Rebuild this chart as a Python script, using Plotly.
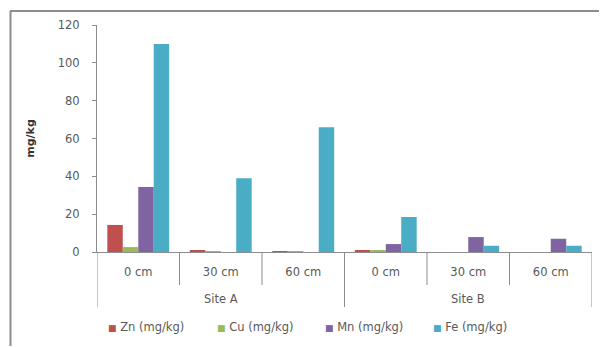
import plotly.graph_objects as go

sites = ["Site A", "Site B"]
depths = ["0 cm", "30 cm", "60 cm", "0 cm", "30 cm", "60 cm"]

zn = [14.3, 1.0, 0.3, 1.0, 0.0, 0.0]
cu = [2.6, 0.3, 0.2, 0.8, 0.0, 0.0]
mn = [34.4, 0.0, 0.0, 4.2, 7.9, 7.0]
fe = [110.0, 39.0, 66.0, 18.5, 3.3, 3.3]

series = [
    ("Zn (mg/kg)", zn, "#C0504D"),
    ("Cu (mg/kg)", cu, "#9BBB59"),
    ("Mn (mg/kg)", mn, "#8064A2"),
    ("Fe (mg/kg)", fe, "#4BACC6"),
]

FONT = "DejaVu Sans"
FS = 11.5
TEXT = "#595959"
AXIS = "#8C8C8C"
FRAME = "#8C8C8C"

W, H = 600, 347
L, R, T, B = 97, 8, 25, 95
pw, ph = W - L - R, H - T - B

pos = list(range(len(depths)))

fig = go.Figure()
for name, vals, color in series:
    fig.add_trace(go.Bar(
        x=pos, y=vals, name=name,
        marker=dict(color=color, line=dict(width=0)),
        showlegend=False,
    ))


def py(px):
    """Paper y coordinate for a pixel row."""
    return 1 - (px - T) / ph


def pxx(px):
    """Paper x coordinate for a pixel column."""
    return (px - L) / pw


shapes = []
# Separators between depth categories
for b in [0.5, 1.5, 3.5, 4.5]:
    shapes.append(dict(type="line", xref="x", yref="paper", x0=b, x1=b,
                       y0=py(252), y1=py(285), line=dict(color=AXIS, width=1)))
# Separators between sites
for b in [-0.5, 2.5, 5.5]:
    shapes.append(dict(type="line", xref="x", yref="paper", x0=b, x1=b,
                       y0=py(252), y1=py(307), line=dict(color=AXIS, width=1)))
# Chart frame (top and left edges)
shapes.append(dict(type="line", xref="paper", yref="paper",
                   x0=pxx(10), x1=pxx(W - 1), y0=py(11), y1=py(11),
                   line=dict(color=FRAME, width=2)))
shapes.append(dict(type="line", xref="paper", yref="paper",
                   x0=pxx(10.5), x1=pxx(10.5), y0=py(11), y1=py(H - 1),
                   line=dict(color=FRAME, width=2)))

annotations = []
for i, s in enumerate(sites):
    annotations.append(dict(x=3 * i + 1, xref="x", y=py(299), yref="paper",
                            text=s, showarrow=False, xanchor="center", yanchor="middle",
                            font=dict(family=FONT, size=FS, color=TEXT)))

# Legend row
legend_x = [106, 215, 323, 431]
for (name, vals, color), lx in zip(series, legend_x):
    annotations.append(dict(x=pxx(lx), xref="paper", y=py(327), yref="paper",
                            text=f"<span style='color:{color};font-size:9px'>■</span> {name}",
                            showarrow=False, xanchor="left", yanchor="middle",
                            font=dict(family=FONT, size=FS, color=TEXT)))

fig.update_layout(
    width=W, height=H,
    margin=dict(l=L, r=R, t=T, b=B),
    paper_bgcolor="white", plot_bgcolor="white",
    barmode="group", bargap=0.25, bargroupgap=0,
    font=dict(family=FONT, size=FS, color=TEXT),
    showlegend=False,
    xaxis=dict(
        range=[-0.5, 5.5],
        tickmode="array", tickvals=pos, ticktext=depths,
        showline=True, linecolor=AXIS, linewidth=1,
        ticks="", ticklabelstandoff=9,
        tickfont=dict(family=FONT, size=FS, color=TEXT),
        showgrid=False, zeroline=False,
    ),
    yaxis=dict(
        range=[0, 120], dtick=20, tick0=0,
        showline=True, linecolor=AXIS, linewidth=1,
        ticks="outside", ticklen=4, tickcolor=AXIS, ticklabelstandoff=10,
        showgrid=False, zeroline=False,
        tickfont=dict(family=FONT, size=FS, color=TEXT),
        title=dict(text="<b>mg/kg</b>", font=dict(family=FONT, size=11, color="#333333"), standoff=20),
    ),
    shapes=shapes,
    annotations=annotations,
)

fig.write_html("out.html", config={"displayModeBar": False})
